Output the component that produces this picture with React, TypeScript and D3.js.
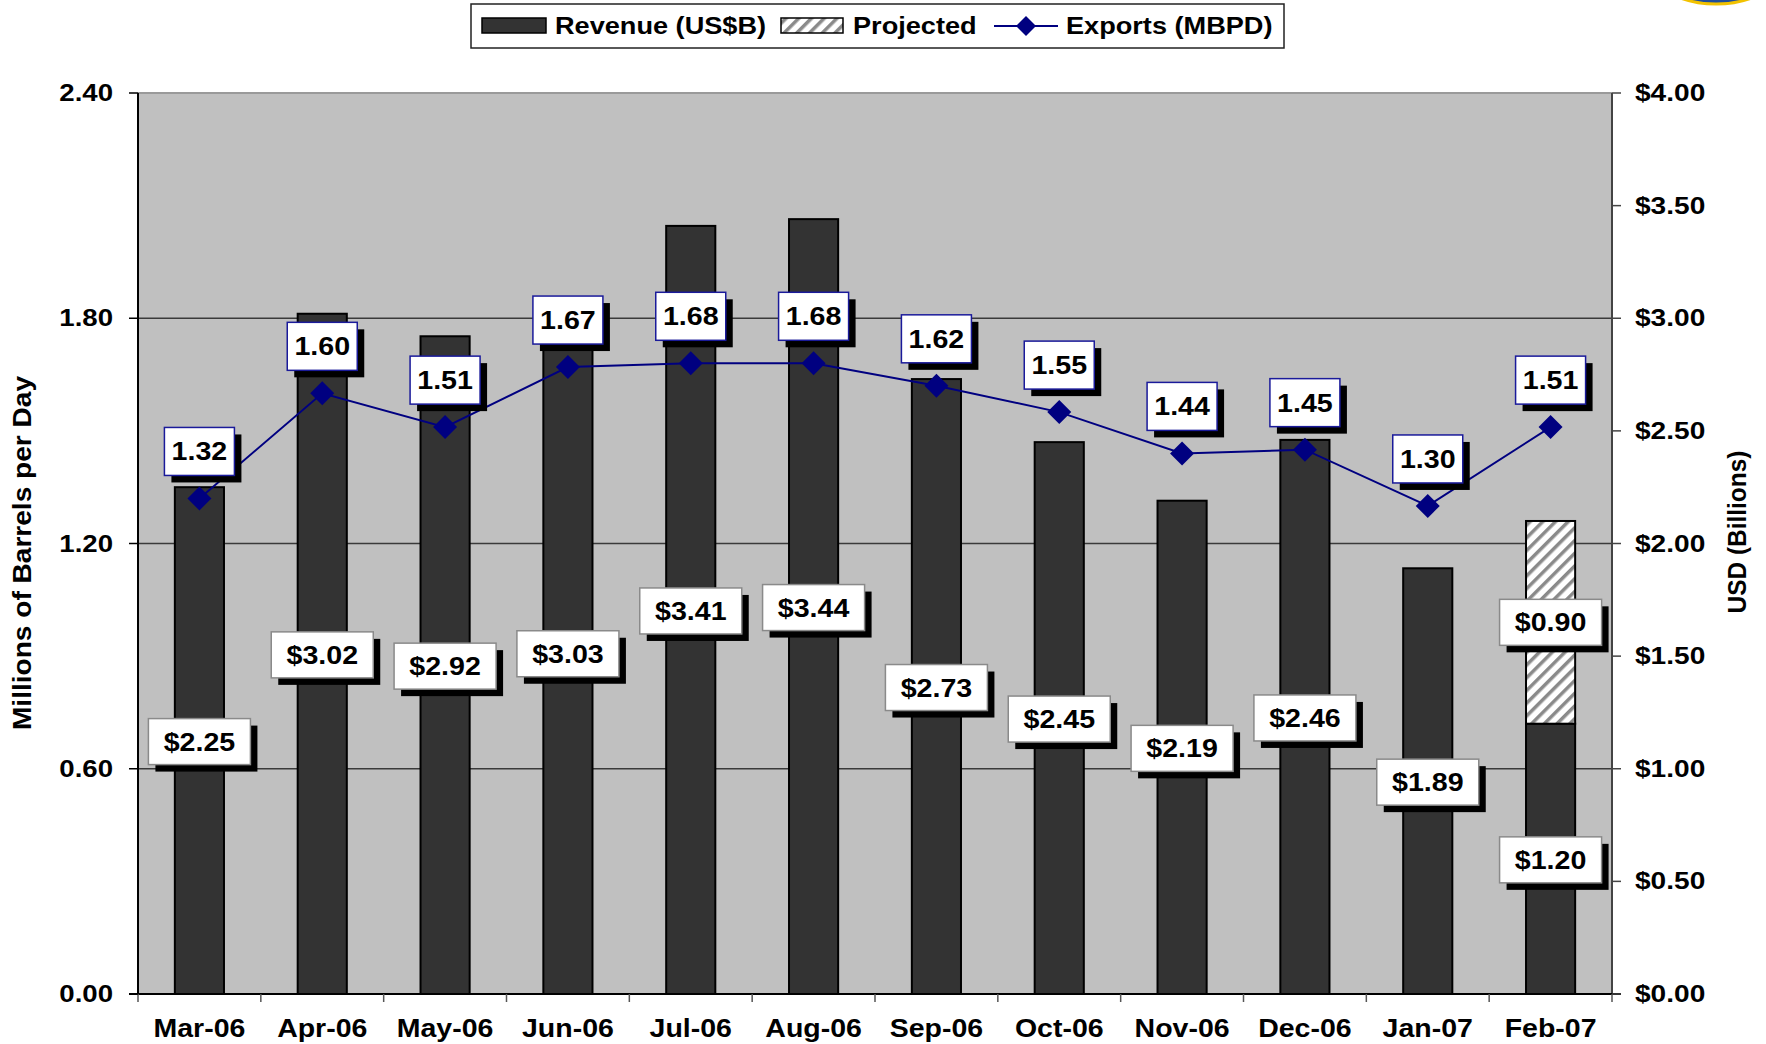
import React from "react";
import * as d3 from "d3";

const categories = ["Mar-06","Apr-06","May-06","Jun-06","Jul-06","Aug-06","Sep-06","Oct-06","Nov-06","Dec-06","Jan-07","Feb-07"];
const revenue = [2.25,3.02,2.92,3.03,3.41,3.44,2.73,2.45,2.19,2.46,1.89,1.20];
const projected = [0,0,0,0,0,0,0,0,0,0,0,0.90];
const exportsMBPD = [1.32,1.60,1.51,1.67,1.68,1.68,1.62,1.55,1.44,1.45,1.30,1.51];
const leftTicks = [0,0.6,1.2,1.8,2.4];
const rightTicks = [0,0.5,1,1.5,2,2.5,3,3.5,4];
const legendLabels = ["Revenue (US$B)","Projected","Exports (MBPD)"];
const leftTitle = "Millions of Barrels per Day";
const rightTitle = "USD (Billions)";

const W = 1766, H = 1044;
const L = 138, R = 1612, T = 93, B = 994;
const FONT = "'Liberation Sans', Arial, Helvetica, sans-serif";

type TP = { x: number; y: number; size: number; sx: number; anchor?: string; rot?: number; children: React.ReactNode };
function Txt({ x, y, size, sx, anchor = "start", rot = 0, children }: TP) {
  return (
    <text
      transform={`translate(${x},${y}) rotate(${rot}) scale(${sx},1)`}
      textAnchor={anchor as any}
      fontSize={size}
      fontWeight="bold"
      fontFamily={FONT}
      fill="#000"
    >
      {children}
    </text>
  );
}

export default function App() {
  const x = d3.scaleBand<string>().domain(categories).range([L, R]).padding(0);
  const yL = d3.scaleLinear().domain([0, 2.4]).range([B, T]);
  const yR = d3.scaleLinear().domain([0, 4]).range([B, T]);
  const bw = x.bandwidth() * 0.4;
  const cx = (c: string) => (x(c) as number) + x.bandwidth() / 2;

  const line = d3.line<number>()
    .x((_, i) => cx(categories[i]))
    .y((d) => yL(d));

  const diamond = (px: number, py: number, s: number) =>
    `M${px},${py - s}L${px + s},${py}L${px},${py + s}L${px - s},${py}Z`;

  const boundaries = d3.range(categories.length + 1).map((i) => L + i * x.bandwidth());

  const box = (key: string, bxc: number, byc: number, w: number, h: number, text: string, stroke: string) => (
    <g key={key}>
      <rect x={bxc - w / 2 + 7} y={byc - h / 2 + 7} width={w} height={h} fill="#000" />
      <rect x={bxc - w / 2} y={byc - h / 2} width={w} height={h} fill="#fff" stroke={stroke} strokeWidth={1.5} />
      <Txt x={bxc} y={byc + 9} size={26} sx={1.1} anchor="middle">{text}</Txt>
    </g>
  );

  return (
    <svg width={W} height={H} style={{ position: "absolute", left: 0, top: 0, background: "#fff" }}>
      <defs>
        <pattern id="hatch" patternUnits="userSpaceOnUse" width={9} height={9} patternTransform="rotate(45)">
          <rect x={0} y={0} width={9} height={9} fill="#fff" />
          <rect x={0} y={0} width={3.5} height={9} fill="#8a8a8a" />
        </pattern>
      </defs>

      {/* logo fragment */}
      <ellipse cx={1716} cy={-40} rx={70} ry={44} fill="#1f4e9c" stroke="#f2c200" strokeWidth={3} />

      {/* plot background */}
      <rect x={L} y={T} width={R - L} height={B - T} fill="#c0c0c0" />
      <line x1={L} x2={R} y1={T} y2={T} stroke="#9a9a9a" strokeWidth={2} />

      {/* gridlines */}
      {leftTicks.filter((t) => t > 0 && t < 2.4).map((t) => (
        <line key={"g" + t} x1={L} x2={R} y1={yL(t)} y2={yL(t)} stroke="#3a3a3a" strokeWidth={1.5} />
      ))}

      {/* bars */}
      {categories.map((c, i) => (
        <g key={"b" + c}>
          <rect x={cx(c) - bw / 2} y={yR(revenue[i])} width={bw} height={B - yR(revenue[i])} fill="#333333" stroke="#000" strokeWidth={2} />
          {projected[i] > 0 && (
            <rect x={cx(c) - bw / 2} y={yR(revenue[i] + projected[i])} width={bw} height={yR(revenue[i]) - yR(revenue[i] + projected[i])} fill="url(#hatch)" stroke="#000" strokeWidth={2} />
          )}
        </g>
      ))}

      {/* axes */}
      <line x1={L} x2={L} y1={T} y2={B} stroke="#000" strokeWidth={2} />
      <line x1={R} x2={R} y1={T} y2={B} stroke="#444" strokeWidth={2} />
      <line x1={L - 9} x2={R + 9} y1={B} y2={B} stroke="#000" strokeWidth={2} />
      {boundaries.map((bx, i) => (
        <line key={"xt" + i} x1={bx} x2={bx} y1={B} y2={B + 8} stroke="#555" strokeWidth={1.5} />
      ))}
      {leftTicks.map((t) => (
        <g key={"lt" + t}>
          <line x1={L - 9} x2={L} y1={yL(t)} y2={yL(t)} stroke="#000" strokeWidth={1.5} />
          <Txt x={113} y={yL(t) + 8} size={23} sx={1.2} anchor="end">{t.toFixed(2)}</Txt>
        </g>
      ))}
      {rightTicks.map((t) => (
        <g key={"rt" + t}>
          <line x1={R} x2={R + 9} y1={yR(t)} y2={yR(t)} stroke="#444" strokeWidth={1.5} />
          <Txt x={1635} y={yR(t) + 8} size={24} sx={1.17}>{"$" + t.toFixed(2)}</Txt>
        </g>
      ))}
      {categories.map((c) => (
        <Txt key={"xl" + c} x={cx(c)} y={1037} size={25} sx={1.14} anchor="middle">{c}</Txt>
      ))}

      {/* axis titles */}
      <Txt x={31} y={553} size={26} sx={1.08} rot={-90} anchor="middle">{leftTitle}</Txt>
      <Txt x={1746} y={532} size={26} sx={0.94} rot={-90} anchor="middle">{rightTitle}</Txt>

      {/* exports line */}
      <path d={line(exportsMBPD) || ""} fill="none" stroke="#000080" strokeWidth={2} />
      {exportsMBPD.map((v, i) => (
        <path key={"d" + i} d={diamond(cx(categories[i]), yL(v), 12)} fill="#000080" />
      ))}

      {/* revenue labels */}
      {categories.map((c, i) => box("rl" + c, cx(c), (yR(revenue[i]) + B) / 2 + 1, 102, 46, "$" + revenue[i].toFixed(2), "#8a8a8a"))}
      {categories.map((c, i) => projected[i] > 0 ? box("pl" + c, cx(c), (yR(revenue[i]) + yR(revenue[i] + projected[i])) / 2, 102, 46, "$" + projected[i].toFixed(2), "#8a8a8a") : null)}

      {/* export labels */}
      {categories.map((c, i) => box("el" + c, cx(c), yL(exportsMBPD[i]) - 47, 70, 48, exportsMBPD[i].toFixed(2), "#1a1a9a"))}

      {/* legend */}
      <g>
        <rect x={471} y={4} width={813} height={44} fill="#fff" stroke="#222" strokeWidth={1.5} />
        <rect x={482} y={18} width={64} height={15} fill="#333333" stroke="#000" strokeWidth={1.5} />
        <Txt x={555} y={34} size={23} sx={1.18}>{legendLabels[0]}</Txt>
        <rect x={781} y={18} width={62} height={15} fill="url(#hatch)" stroke="#000" strokeWidth={1.5} />
        <Txt x={853} y={34} size={23} sx={1.18}>{legendLabels[1]}</Txt>
        <line x1={994} x2={1058} y1={26} y2={26} stroke="#000080" strokeWidth={2} />
        <path d={diamond(1026, 26, 10)} fill="#000080" />
        <Txt x={1066} y={34} size={23} sx={1.18}>{legendLabels[2]}</Txt>
      </g>
    </svg>
  );
}
